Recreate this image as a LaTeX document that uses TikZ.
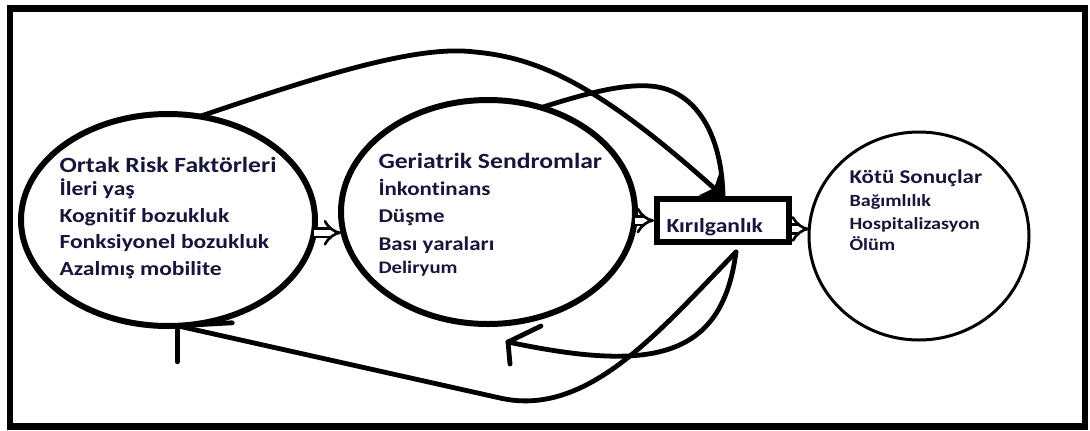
\documentclass[tikz,border=0pt]{standalone}
\usepackage{fontspec}
\setmainfont{Carlito}[FakeStretch=1.18, Ligatures=NoCommon]
\usetikzlibrary{shapes.geometric,arrows.meta}
\definecolor{inknavy}{RGB}{22,22,58}
\tikzset{every picture/.style={line width=0.75pt}}
\tikzset{
  bubble/.style={draw, ellipse, line width=4.5pt, inner sep=0pt, outer sep=0pt},
  flow/.style={line width=3.6pt, line cap=round},
  implies/.style={double, double distance=4.5pt, line width=2pt, -{Implies}},
  lbl/.style={anchor=base west, inner sep=0pt, text=inknavy},
  hd/.style={lbl, font=\bfseries\fontsize{16.3}{18}\selectfont},
  it/.style={lbl, font=\bfseries\fontsize{15}{17}\selectfont},
  its/.style={lbl, font=\bfseries\fontsize{14.6}{17}\selectfont},
  itx/.style={lbl, font=\bfseries\fontsize{12.8}{15}\selectfont}
}

\begin{document}
\begin{tikzpicture}[x=0.75pt,y=0.75pt,yscale=-1,xscale=1]
	\useasboundingbox (0,0) rectangle (1090,430);

	%Frame
	\draw [line width=5pt] (10,8.5) rectangle (1085,426.5);

	%Shape: Ellipse [id:risk]
	\node [bubble, minimum width=220.5pt, minimum height=159pt] (risk) at (168,220) {};
	%Shape: Ellipse [id:sendrom]
	\node [bubble, minimum width=220.5pt, minimum height=168pt] (sendrom) at (488,212) {};
	%Shape: Ellipse [id:outcome]
	\node [bubble, line width=2.25pt, minimum width=165pt, minimum height=156pt] (outcome) at (919,236) {};
	%Shape: Rectangle [id:frail]
	\node [draw, line width=4.5pt, minimum width=99pt, minimum height=32pt, inner sep=0pt] (frail) at (723,220.5) {};

	\coordinate (fork) at (736,252);
	\coordinate (sendtip) at (508,342);

	%Curve Lines: risk to frail
	\draw [flow, -{Stealth[length=14pt, width=24pt, inset=5pt]}] (risk.73) .. controls (330,72) and (420,45) .. (475,52) .. controls (540,58) and (600,86) .. (frail.north) ;
	%Curve Lines: sendrom to frail
	\draw [flow] (sendrom.63) .. controls (590,92) and (630,82) .. (658,87) .. controls (700,95) and (722,140) .. (frail.north) ;
	%Curve Lines: frail back to risk
	\draw [flow] (fork) .. controls (660,330) and (588,418) .. (500,398) -- (risk.-85) ;
	\draw [flow] (risk.-85) -- ++(55,-3) ;
	\draw [flow] (risk.-85) -- ++(0,36) ;
	%Curve Lines: frail back to sendrom
	\draw [flow] (fork) .. controls (722,360) and (650,372) .. (sendtip) ;
	\draw [flow] (sendtip) -- ++(33,-16) ;
	\draw [flow] (sendtip) -- ++(2,22) ;

	%Double Arrows
	\draw [implies] (risk.-5) -- (risk.-5 -| sendrom.west) ;
	\draw [implies] (frail.west -| sendrom.east) -- (frail.west) ;
	\draw [implies] (frail.-7) -- (frail.-7 -| outcome.west) ;

	% Text Node
	\draw (59,172) node [hd] (riskhead) {Ortak Risk Faktörleri};
	\draw (59,195) node [it] (riskage) {İleri yaş};
	\draw (59,222) node [it] (riskcog) {Kognitif bozukluk};
	\draw (59,248) node [it] (riskfunc) {Fonksiyonel bozukluk};
	\draw (59,275) node [it] (riskmob) {Azalmış mobilite};
	% Text Node
	\draw (378,168) node [hd] (sendhead) {Geriatrik Sendromlar};
	\draw (378,195) node [its] (sendinc) {İnkontinans};
	\draw (378,222) node [its] (sendfall) {Düşme};
	\draw (378,250) node [its] (sendpress) {Bası yaraları};
	\draw (378,273) node [lbl, font=\bfseries\fontsize{13.2}{15}\selectfont] (senddel) {Deliryum};
	% Text Node
	\draw (666,232) node [it] (frailtxt) {Kırılganlık};
	% Text Node
	\draw (849,183) node [its] (outhead) {Kötü Sonuçlar};
	\draw (849,206) node [itx] (outdep) {Bağımlılık};
	\draw (849,229) node [itx] (outhosp) {Hospitalizasyon};
	\draw (849,250) node [itx] (outdeath) {Ölüm};

\end{tikzpicture}
\end{document}
